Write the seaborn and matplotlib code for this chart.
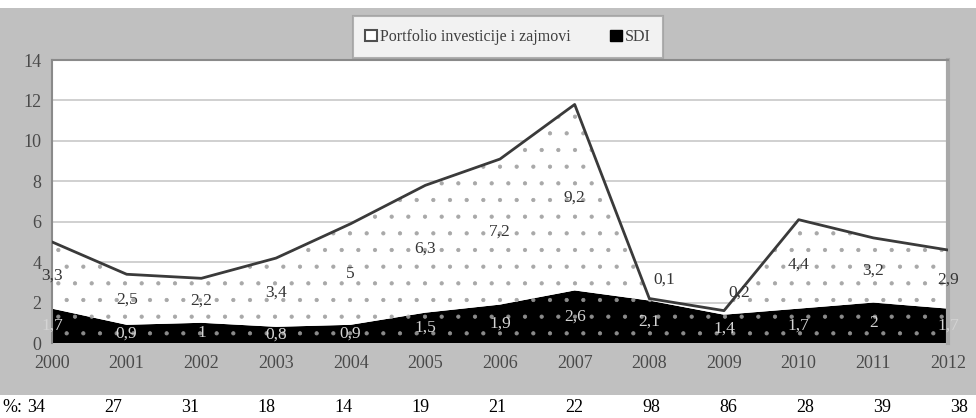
import matplotlib
matplotlib.use("Agg")
import matplotlib.pyplot as plt
import seaborn as sns
import pandas as pd
from matplotlib.patches import Rectangle

# data
years = [2000, 2001, 2002, 2003, 2004, 2005, 2006, 2007, 2008, 2009, 2010, 2011, 2012]
sdi = [1.7, 0.9, 1.0, 0.8, 0.9, 1.5, 1.9, 2.6, 2.1, 1.4, 1.7, 2.0, 1.7]
portfolio = [3.3, 2.5, 2.2, 3.4, 5.0, 6.3, 7.2, 9.2, 0.1, 0.2, 4.4, 3.2, 2.9]
share_pct = [34, 27, 31, 18, 14, 19, 21, 22, 98, 86, 28, 39, 38]
legend_labels = ["Portfolio investicije i zajmovi", "SDI"]

df = pd.DataFrame({"year": years, "sdi": sdi, "portfolio": portfolio})
df["total"] = df["sdi"] + df["portfolio"]

# thin bands: labels were moved up/right by hand in the original
label_nudge = {2008: (0.2, 1.0), 2009: (0.2, 1.0)}

sns.set_style("white")
plt.rcParams["font.family"] = ["Liberation Serif", "DejaVu Serif"]
plt.rcParams["hatch.linewidth"] = 0.6

W, H = 976, 418
fig = plt.figure(figsize=(W / 100, H / 100), dpi=100)
fig.patch.set_facecolor("white")

# gray chart frame
fig.add_artist(Rectangle((0, 1 - 395 / H), 1, (395 - 8) / H, transform=fig.transFigure,
                         facecolor="#c0c0c0", edgecolor="none", zorder=0))

ax = fig.add_axes([52 / W, 1 - 343 / H, (948 - 52) / W, (343 - 60) / H])
ax.set_facecolor("white")

polys = ax.stackplot(df["year"], df["sdi"], df["portfolio"],
                     colors=["black", "white"], linewidth=0, zorder=2)
polys[0].set_edgecolor("#8c8c8c")
polys[0].set_hatch(".")
polys[1].set_edgecolor("#a8a8a8")
polys[1].set_hatch(".")

sns.lineplot(data=df, x="year", y="total", color="#3a3a3a", linewidth=2, ax=ax, zorder=3)

# value labels, centred in each band
for i, yr in enumerate(years):
    ax.text(yr, sdi[i] / 2, f"{sdi[i]:g}".replace(".", ","), ha="center", va="center",
            fontsize=12.5, color="#d4d4d4", zorder=4, clip_on=False)
    dx, dy = label_nudge.get(yr, (0, 0))
    ax.text(yr + dx, sdi[i] + portfolio[i] / 2 + dy, f"{portfolio[i]:g}".replace(".", ","),
            ha="center", va="center", fontsize=12.5, color="#353535", zorder=4, clip_on=False)

ax.set_xlim(2000, 2012)
ax.set_ylim(0, 14)
ax.set_yticks(range(0, 15, 2))
ax.set_xticks(years)
ax.yaxis.grid(True, color="#c8c8c8", linewidth=1.2)
ax.set_axisbelow(True)
ax.set_xlabel("")
ax.set_ylabel("")
ax.tick_params(axis="both", colors="#4a4a4a", labelsize=13, length=4, width=1)
ax.tick_params(axis="x", length=0, pad=9)
for s in ["left", "top"]:
    ax.spines[s].set_color("#8a8a8a")
    ax.spines[s].set_linewidth(1.5)
ax.spines["right"].set_color("#a8a8a8")
ax.spines["right"].set_linewidth(3)
ax.spines["bottom"].set_visible(False)

# legend
handles = [Rectangle((0, 0), 1, 1, facecolor="white", edgecolor="#505050", linewidth=1.5),
           Rectangle((0, 0), 1, 1, facecolor="black", edgecolor="black")]
leg = fig.legend(handles, [legend_labels[0], legend_labels[1]], loc="center",
                 bbox_to_anchor=((328 + 688) / 2 / W, 1 - 37 / H), ncol=2,
                 frameon=True, fancybox=False, fontsize=11.5, handlelength=0.7,
                 handleheight=0.7, handletextpad=0.2, columnspacing=2.5,
                 borderpad=0.8, labelcolor="#404040")
leg.get_frame().set_edgecolor("#a0a0a0")
leg.get_frame().set_linewidth(1.5)

# percentage row
ax2 = fig.add_axes([36 / W, 0, (959 - 36) / W, 22 / H])
ax2.set_xlim(2000, 2012)
ax2.set_ylim(0, 1)
ax2.axis("off")
for yr, p in zip(years, share_pct):
    ax2.text(yr, 0.5, str(p), ha="center", va="center", fontsize=13, color="black")
fig.text(12 / W, 1 - 407 / H, "%:", ha="center", va="center", fontsize=13, color="black")

fig.savefig("out.png", dpi=100)
